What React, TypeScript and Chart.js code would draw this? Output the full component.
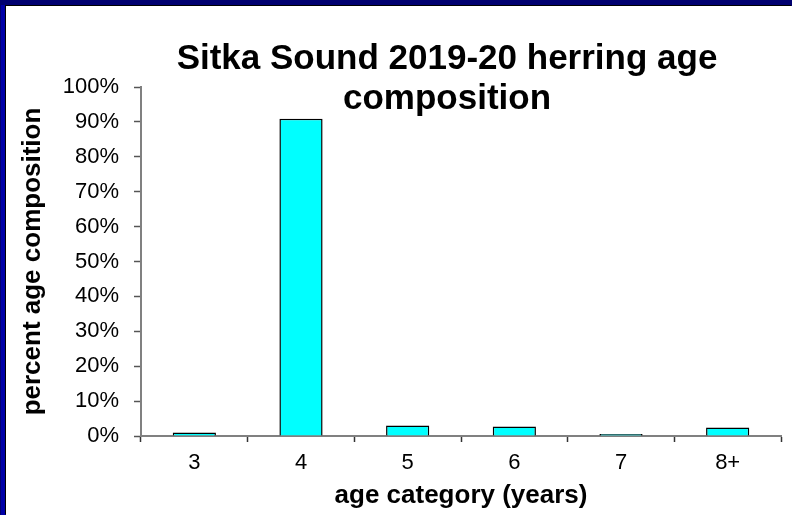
import React, { useEffect, useRef } from "react";
import { Chart, registerables } from "chart.js";

Chart.register(...registerables);

const categories = ["3", "4", "5", "6", "7", "8+"];
const ageComposition = [1.0, 90.9, 3.0, 2.7, 0.6, 2.4];
const titleLines = ["Sitka Sound 2019-20 herring age", "composition"];
const yAxisTitle = "percent age composition";
const xAxisTitle = "age category (years)";

const FONT = '"Liberation Sans", Arial, Helvetica, sans-serif';

const titlePlugin = {
  id: "excelTitle",
  afterDraw(chart: any) {
    const { ctx, chartArea } = chart;
    ctx.save();
    ctx.font = `bold 35px ${FONT}`;
    ctx.fillStyle = "#000";
    ctx.textAlign = "center";
    ctx.textBaseline = "alphabetic";
    const cx = (chartArea.left + chartArea.right) / 2 - 14;
    titleLines.forEach((line, i) => {
      ctx.fillText(line, cx, chartArea.top - 18 + i * 40);
    });
    ctx.restore();
  },
};

export default function App() {
  const ref = useRef<HTMLCanvasElement | null>(null);

  useEffect(() => {
    document.body.style.margin = "0";
    if (!ref.current) return;
    Chart.defaults.font.family = FONT;
    const chart = new Chart(ref.current, {
      type: "bar",
      data: {
        labels: categories,
        datasets: [
          {
            data: ageComposition,
            backgroundColor: "#00FFFF",
            borderColor: "#000000",
            borderWidth: 1.5,
            barPercentage: 0.405,
            categoryPercentage: 1,
          },
        ],
      },
      options: {
        responsive: false,
        animation: false,
        layout: { padding: { top: 81, right: 11, left: 0, bottom: 0 } },
        plugins: {
          legend: { display: false },
          title: { display: false },
          tooltip: { enabled: false },
        },
        scales: {
          x: {
            afterFit(scale: any) {
              scale.height = 79;
            },
            grid: {
              display: true,
              drawOnChartArea: false,
              drawTicks: true,
              tickLength: 6,
              tickColor: "#333333",
              tickWidth: 1.5,
              offset: true,
            },
            border: { display: true, color: "#808080", width: 2 },
            ticks: {
              color: "#000",
              font: { size: 22, family: FONT },
              padding: 8,
            },
            title: {
              display: true,
              text: xAxisTitle,
              color: "#000",
              font: { size: 26, weight: "bold", family: FONT },
              padding: { top: 0, bottom: 4 },
            },
          },
          y: {
            min: 0,
            max: 100,
            afterFit(scale: any) {
              scale.width = 135;
            },
            grid: {
              display: true,
              drawOnChartArea: false,
              drawTicks: true,
              tickLength: 7,
              tickColor: "#555555",
              tickWidth: 1.5,
            },
            border: { display: true, color: "#808080", width: 2 },
            ticks: {
              stepSize: 10,
              color: "#000",
              font: { size: 22, family: FONT },
              padding: 15,
              callback: (v: any) => `${v}%`,
            },
            title: {
              display: true,
              text: yAxisTitle,
              color: "#000",
              font: { size: 26, weight: "bold", family: FONT },
              padding: { top: 11, bottom: 0 },
            },
          },
        },
      },
      plugins: [titlePlugin],
    });
    return () => chart.destroy();
  }, []);

  return (
    <div
      style={{
        position: "absolute",
        left: 0,
        top: 0,
        width: 792,
        height: 515,
        background: "#000070",
        overflow: "hidden",
      }}
    >
      <div
        style={{
          position: "absolute",
          left: 1,
          top: 5,
          width: 4,
          height: 510,
          background: "#0000a8",
        }}
      />
      <div
        style={{
          position: "absolute",
          left: 6,
          top: 6,
          width: 786,
          height: 509,
          background: "#ffffff",
          boxShadow: "-1px -1px 0 #000",
        }}
      >
        <canvas ref={ref} width={786} height={509} style={{ display: "block" }} />
      </div>
    </div>
  );
}
